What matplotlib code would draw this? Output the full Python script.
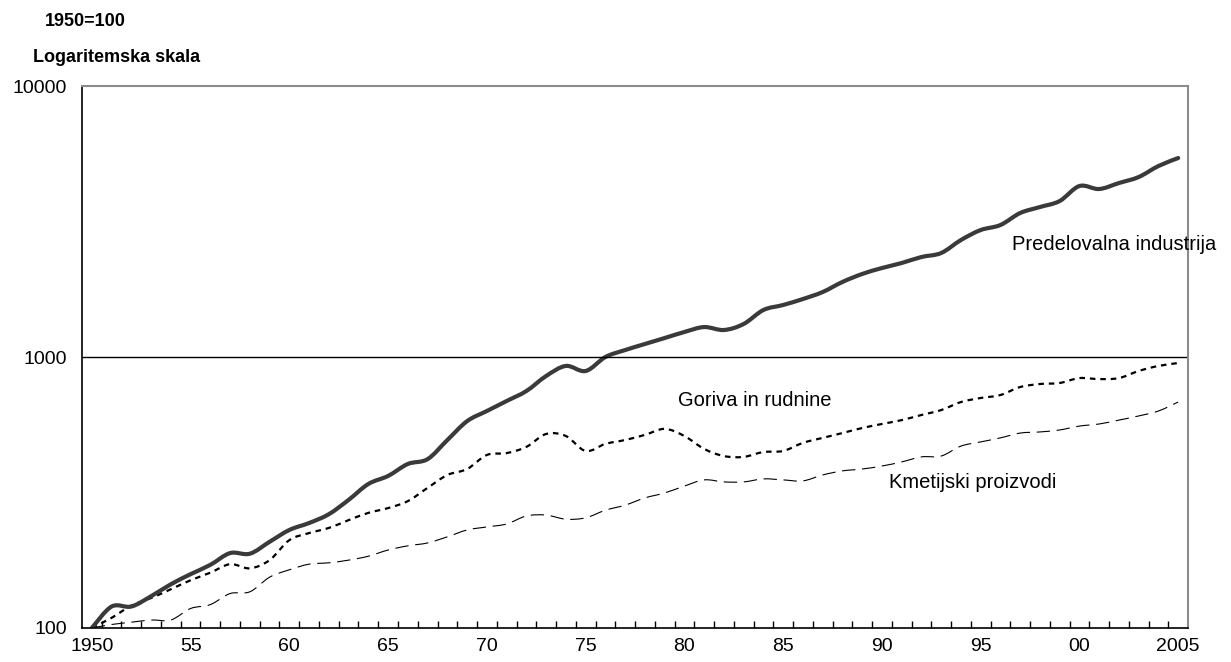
import matplotlib
matplotlib.use("Agg")
import numpy as np
from matplotlib import pyplot as plt
from matplotlib.path import Path
from matplotlib.patches import PathPatch
from matplotlib.ticker import FixedLocator, NullFormatter

plt.rcParams['font.family'] = ['Liberation Sans', 'DejaVu Sans']

# Podatki (1950=100), odčitani s slike
leta = list(range(1950, 2006))

predelovalna = [100, 120, 120, 131, 145, 158, 171, 189, 188, 208,
                230, 244, 263, 297, 340, 364, 403, 420, 494, 580,
                632, 688, 749, 851, 927, 888, 1000, 1061, 1117, 1175,
                1237, 1290, 1258, 1324, 1491, 1556, 1637, 1737, 1892, 2025,
                2130, 2223, 2339, 2420, 2702, 2942, 3070, 3400, 3577, 3764,
                4276, 4169, 4386, 4616, 5068, 5424]

goriva = [100, 109, 121, 129, 139, 150, 160, 172, 166, 178,
          211, 224, 234, 250, 266, 277, 294, 329, 367, 386,
          435, 442, 466, 520, 511, 450, 478, 494, 516, 543,
          511, 458, 431, 428, 446, 450, 482, 503, 524, 547,
          566, 585, 611, 637, 682, 706, 724, 775, 795, 802,
          836, 829, 836, 888, 927, 950]

kmetijski = [100, 103, 105, 107, 107, 118, 122, 134, 136, 154,
             164, 172, 174, 178, 184, 194, 201, 206, 217, 230,
             236, 242, 259, 261, 252, 255, 272, 284, 302, 315,
             334, 352, 346, 346, 355, 352, 349, 367, 380, 386,
             396, 410, 428, 431, 469, 486, 503, 524, 529, 538,
             556, 566, 585, 606, 632, 682]

oznake_let = [1950, 1955, 1960, 1965, 1970, 1975, 1980, 1985, 1990, 1995, 2000, 2005]
oznake_besedilo = ['1950', '55', '60', '65', '70', '75', '80', '85', '90', '95', '00', '2005']


# zglajena črta (kot v Excelu) - Bezierjeve krivulje skozi točke, v log prostoru
def gladka_crta(ax, x, y, **kw):
    x = np.asarray(x, dtype=float)
    ly = np.log10(np.asarray(y, dtype=float))
    n = len(x)
    verts = [(x[0], ly[0])]
    codes = [Path.MOVETO]
    for i in range(n - 1):
        im = max(i - 1, 0)
        ip = min(i + 2, n - 1)
        c1 = (x[i] + (x[i + 1] - x[im]) / 6, ly[i] + (ly[i + 1] - ly[im]) / 6)
        c2 = (x[i + 1] - (x[ip] - x[i]) / 6, ly[i + 1] - (ly[ip] - ly[i]) / 6)
        verts += [c1, c2, (x[i + 1], ly[i + 1])]
        codes += [Path.CURVE4] * 3
    verts = [(vx, 10 ** vy) for vx, vy in verts]
    ax.add_patch(PathPatch(Path(verts, codes), fill=False, **kw))


fig = plt.figure(figsize=(12.31, 6.62), dpi=100)
ax = fig.add_axes([0.0666, 0.0514, 0.8985, 0.8186])

ax.set_yscale('log')
ax.set_ylim(100, 10000)
ax.set_xlim(1949.5, 2005.5)

gladka_crta(ax, leta, kmetijski, edgecolor='black', linewidth=0.8, linestyle=(0, (12, 6)))
gladka_crta(ax, leta, goriva, edgecolor='black', linewidth=1.6, linestyle=(0, (2.5, 2.2)))
gladka_crta(ax, leta, predelovalna, edgecolor='#3a3a3a', linewidth=3.0, capstyle='round')

ax.axhline(1000, color='black', linewidth=1.0)

ax.yaxis.set_major_locator(FixedLocator([100, 1000, 10000]))
ax.set_yticklabels(['100', '1000', '10000'])
ax.yaxis.set_minor_locator(FixedLocator([]))
ax.tick_params(axis='y', which='both', length=0, pad=11, labelsize=14)

ax.xaxis.set_major_locator(FixedLocator(oznake_let))
ax.set_xticklabels(oznake_besedilo)
ax.xaxis.set_minor_locator(FixedLocator([l + 0.5 for l in leta[:-1]]))
ax.xaxis.set_minor_formatter(NullFormatter())
ax.tick_params(axis='x', which='major', length=0, pad=7, labelsize=14)
ax.tick_params(axis='x', which='minor', direction='in', length=5, width=1, color='black')

for s in ['top', 'right']:
    ax.spines[s].set_color('#8c8c8c')
    ax.spines[s].set_linewidth(1.5)
for s in ['left', 'bottom']:
    ax.spines[s].set_color('black')
    ax.spines[s].set_linewidth(1.2)

ax.text(1996.6, 2600, 'Predelovalna industrija', fontsize=14.5, va='center', ha='left', clip_on=False)
ax.text(1979.7, 690, 'Goriva in rudnine', fontsize=14.5, va='center', ha='left')
ax.text(1990.35, 345, 'Kmetijski proizvodi', fontsize=14.5, va='center', ha='left')

fig.text(45 / 1231, 1 - 21 / 662, '1950=100', fontsize=13, fontweight='bold', va='center', ha='left')
fig.text(33 / 1231, 1 - 58 / 662, 'Logaritemska skala', fontsize=13, fontweight='bold', va='center', ha='left')

fig.savefig('out.png', dpi=100)
